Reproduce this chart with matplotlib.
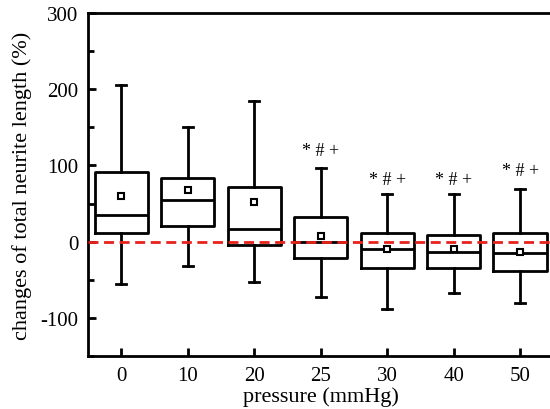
import numpy as np
import matplotlib
matplotlib.use("Agg")
import matplotlib.pyplot as plt
from matplotlib.ticker import MultipleLocator

plt.rcParams['font.family'] = ['Liberation Serif', 'DejaVu Serif']
plt.rcParams['axes.unicode_minus'] = False

pressures = ['0', '10', '20', '25', '30', '40', '50']
whisk_hi = [206, 151, 185, 96, 62, 63, 69]
q3 = [91, 84, 72, 32, 12, 9, 11]
medians = [35, 55, 17, 0, -10, -14, -15]
q1 = [11, 20, -4, -21, -34, -35, -39]
whisk_lo = [-55, -32, -53, -73, -88, -67, -81]
means = [60, 68, 52, 7, -9, -9, -14]
signif = ['', '', '', '* # +', '* # +', '* # +', '* # +']
signif_y = [0, 0, 0, 119, 82, 82, 93]

fig = plt.figure(figsize=(5.5, 4.1), dpi=100)
ax = fig.add_axes([0.16, 0.1293, 0.846, 0.8366])

stats = []
for i in range(len(pressures)):
    stats.append({'whislo': whisk_lo[i], 'q1': q1[i], 'med': medians[i],
                  'q3': q3[i], 'whishi': whisk_hi[i], 'mean': means[i]})

pos = np.arange(len(pressures))
ax.bxp(stats, positions=pos, widths=0.8, capwidths=0.15, showmeans=True,
       showfliers=False,
       boxprops=dict(color='black', linewidth=2),
       medianprops=dict(color='black', linewidth=2),
       whiskerprops=dict(color='black', linewidth=2),
       capprops=dict(color='black', linewidth=2),
       meanprops=dict(marker='s', markerfacecolor='white',
                      markeredgecolor='black', markersize=4,
                      markeredgewidth=1.5))

ax.axhline(0, color='#e8221b', linestyle=(0, (3.6, 2)), linewidth=2, zorder=5)

for i, s in enumerate(signif):
    if s:
        ax.text(pos[i], signif_y[i], s, ha='center', va='center', fontsize=13)

ax.set_xlim(-0.5, 6.5)
ax.set_ylim(-150, 300)
ax.set_xticks(pos)
ax.set_xticklabels(pressures)
ax.yaxis.set_major_locator(MultipleLocator(100))
ax.yaxis.set_minor_locator(MultipleLocator(50))
ax.tick_params(axis='both', which='major', direction='in', length=6, width=2,
               labelsize=15, pad=7)
ax.tick_params(axis='y', which='minor', direction='in', length=4, width=2)
for sp in ax.spines.values():
    sp.set_linewidth(2)

ax.set_xlabel('pressure (mmHg)', fontsize=16, labelpad=1)
ax.set_ylabel('changes of total neurite length (%)', fontsize=16, labelpad=6)

fig.savefig('out.png', dpi=100)
